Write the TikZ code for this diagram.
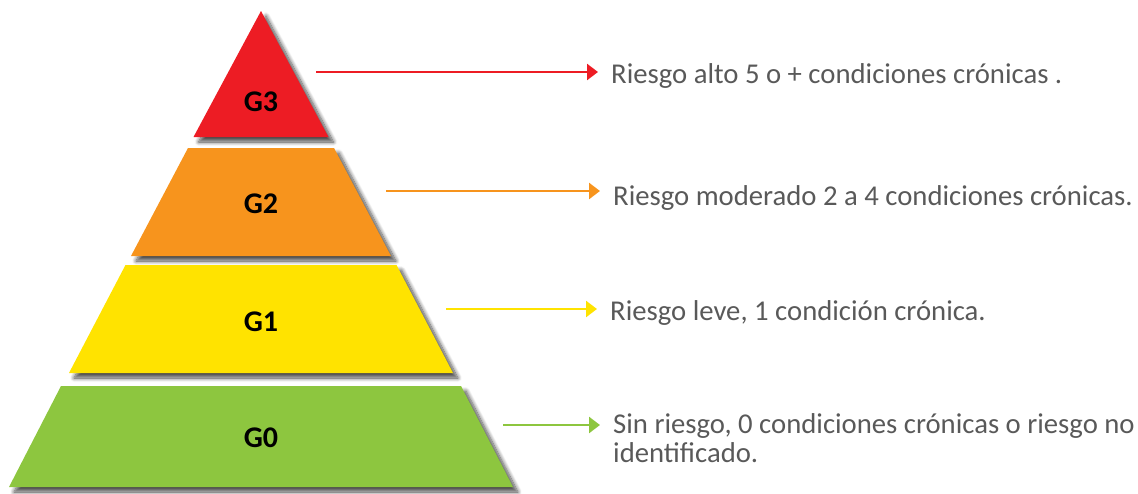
\documentclass[tikz,border=0pt]{standalone}
\usepackage{fontspec}
\setmainfont{Carlito}
\usetikzlibrary{arrows.meta,shadows.blur}

\definecolor{lvRed}{HTML}{ED1C24}
\definecolor{lvOrange}{HTML}{F7941D}
\definecolor{lvYellow}{HTML}{FFE300}
\definecolor{lvGreen}{HTML}{8DC63F}
\definecolor{descGray}{HTML}{595959}

\tikzset{
  level/.style={draw=none, blur shadow={shadow xshift=5pt, shadow yshift=-5pt,
      shadow blur radius=4pt, shadow blur steps=10, shadow opacity=70}},
  lvlabel/.style={font=\fontsize{30}{32}\selectfont\bfseries, text=black, inner sep=0pt},
  desc/.style={font=\fontsize{28.7}{29.5}\selectfont, text=descGray, inner sep=0pt, align=left},
  pointer/.style={line width=2.5pt, -{Triangle[length=11pt,width=16pt]}, shorten >=13pt},
}

\begin{document}
\begin{tikzpicture}[x=1pt, y=-1pt]
  \useasboundingbox (0,0) rectangle (1138,493);

  % pyramid levels: name/colour/top y/bottom y/top half width/bottom half width
  \foreach \lv/\col/\ya/\yb/\wa/\wb in {g3/lvRed/11/137/0/67.5,
                                       g2/lvOrange/148/256/73/130,
                                       g1/lvYellow/265/373/135.5/192,
                                       g0/lvGreen/386/487/200/252}
    \fill[level, fill=\col] (261-\wa,\ya) -- (261+\wa,\ya) -- (261+\wb,\yb) -- (261-\wb,\yb) -- cycle;

  \node[lvlabel] (lg3) at (261,102) {G3};
  \node[lvlabel] (lg2) at (261,204) {G2};
  \node[lvlabel] (lg1) at (261,322) {G1};
  \node[lvlabel] (lg0) at (261,438) {G0};

  % arrow starts
  \coordinate (s3) at (316,72);
  \coordinate (s2) at (386,191);
  \coordinate (s1) at (446,309);
  \coordinate (s0) at (503,425);

  % descriptions
  \node[desc, anchor=base west] (t3) at (611,83) {Riesgo alto 5 o + condiciones crónicas .};
  \node[desc, anchor=base west] (t2) at (613,205) {Riesgo moderado 2 a 4 condiciones crónicas.};
  \node[desc, anchor=base west] (t1) at (610,320) {Riesgo leve, 1 condición crónica.};
  \node[desc, anchor=north west] (t0) at (613,413) {Sin riesgo, 0 condiciones crónicas o riesgo no\\identificado.};

  \draw[pointer, lvRed] (s3) -- (s3 -| t3.west);
  \draw[pointer, lvOrange] (s2) -- (s2 -| t2.west);
  \draw[pointer, lvYellow] (s1) -- (s1 -| t1.west);
  \draw[pointer, lvGreen] (s0) -- (s0 -| t0.west);
\end{tikzpicture}
\end{document}
